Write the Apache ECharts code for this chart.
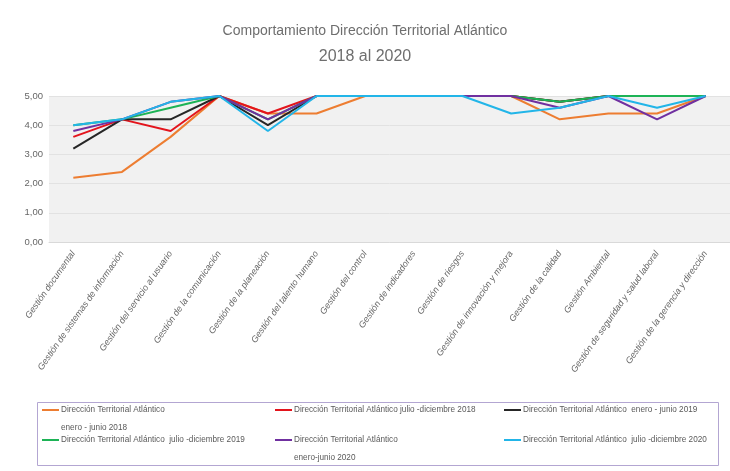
<!DOCTYPE html>
<html><head><meta charset="utf-8">
<script src="https://cdn.jsdelivr.net/npm/echarts@6/dist/echarts.min.js"></script>
<style>html,body{margin:0;padding:0;background:#fff}#c{width:730px;height:471px}</style>
</head><body><div id="c"></div>
<script>
const categories = ["Gestión documental","Gestión de sistemas de información","Gestión del servicio al usuario","Gestión de la comunicación","Gestión de la planeación","Gestión del talento humano","Gestión del control","Gestión de indicadores","Gestión de riesgos","Gestión de innovación y mejora","Gestión de la calidad","Gestión Ambiental","Gestión de seguridad y salud laboral","Gestión de la gerencia y dirección"];
const seriesNames = ["Dirección Territorial Atlántico\nenero - junio 2018","Dirección Territorial Atlántico julio -diciembre 2018","Dirección Territorial Atlántico  enero - junio 2019","Dirección Territorial Atlántico  julio -diciembre 2019","Dirección Territorial Atlántico\nenero-junio 2020","Dirección Territorial Atlántico  julio -diciembre 2020"];
const ene2018 = [2.2,2.4,3.6,5,4.4,4.4,5,5,5,5,4.2,4.4,4.4,5];
const jul2018 = [3.6,4.2,3.8,5,4.4,5,5,5,5,5,4.8,5,5,5];
const ene2019 = [3.2,4.2,4.2,5,4.0,5,5,5,5,5,4.8,5,5,5];
const jul2019 = [4.0,4.2,4.6,5,4.2,5,5,5,5,5,4.8,5,5,5];
const ene2020 = [3.8,4.2,4.8,5,4.2,5,5,5,5,5,4.6,5,4.2,5];
const jul2020 = [4.0,4.2,4.8,5,3.8,5,5,5,5,4.4,4.6,5,4.6,5];
const yTicks = [0,1,2,3,4,5];
const colors = ["#ED7D31","#E3141C","#262626","#1DB356","#7030A0","#22B5E8"];
const allData = [ene2018,jul2018,ene2019,jul2019,ene2020,jul2020];

const FONT = "'Liberation Sans',Arial,sans-serif";
const chart = echarts.init(document.getElementById('c'));
const legendPos = [[42,406],[275,406],[504,406],[42,436],[275,436],[504,436]];
const legends = seriesNames.map((n,i)=>({
  data:[n], left:legendPos[i][0], top:legendPos[i][1], itemWidth:17, itemHeight:2, itemGap:0,
  icon:'rect', padding:0,
  formatter: s => s.split('\n')[0],
  textStyle:{fontFamily:FONT,fontSize:8.2,color:'#595959',padding:[0,0,0,-3]}
}));
chart.setOption({
  backgroundColor:'#fff',
  animation:false,
  title:{
    text:'Comportamiento Dirección Territorial Atlántico\n{b|2018 al 2020}',
    left:'center', top:14,
    textStyle:{fontFamily:FONT,fontSize:14,fontWeight:'normal',color:'#6e6e6e',lineHeight:24,
      rich:{b:{fontFamily:FONT,fontSize:16,color:'#6e6e6e',lineHeight:28}}}
  },
  legend: legends,
  graphic:[
    {type:'rect',shape:{x:37.5,y:402.5,width:681,height:63},style:{fill:'none',stroke:'#b3a6d2',lineWidth:1},silent:true},
    {type:'text',left:61,top:424,style:{text:'enero - junio 2018',font:"8.2px "+FONT,fill:'#595959'}},
    {type:'text',left:294,top:454,style:{text:'enero-junio 2020',font:"8.2px "+FONT,fill:'#595959'}}
  ],
  grid:{left:49,top:96,width:683,height:146,show:true,backgroundColor:'#f1f1f1',borderWidth:0},
  xAxis:{
    type:'category', data:categories, boundaryGap:true,
    axisLine:{show:true,lineStyle:{color:'#d9d9d9'}}, axisTick:{show:false},
    axisLabel:{interval:0,rotate:55,fontFamily:FONT,fontSize:9,color:'#666666',margin:10,fontStyle:'italic'}
  },
  yAxis:{
    type:'value', min:0, max:5, interval:1,
    axisLine:{show:false}, axisTick:{show:false},
    splitLine:{lineStyle:{color:'#e2e2e2'}},
    axisLabel:{fontFamily:FONT,fontSize:9.5,color:'#666666',margin:6,
      formatter:v=>v.toFixed(2).replace('.',',')}
  },
  series: allData.map((d,i)=>({
    name:seriesNames[i], type:'line', data:d, symbol:'none',
    lineStyle:{width:2,color:colors[i]}, itemStyle:{color:colors[i]}, z:2+i
  }))
});
</script></body></html>
